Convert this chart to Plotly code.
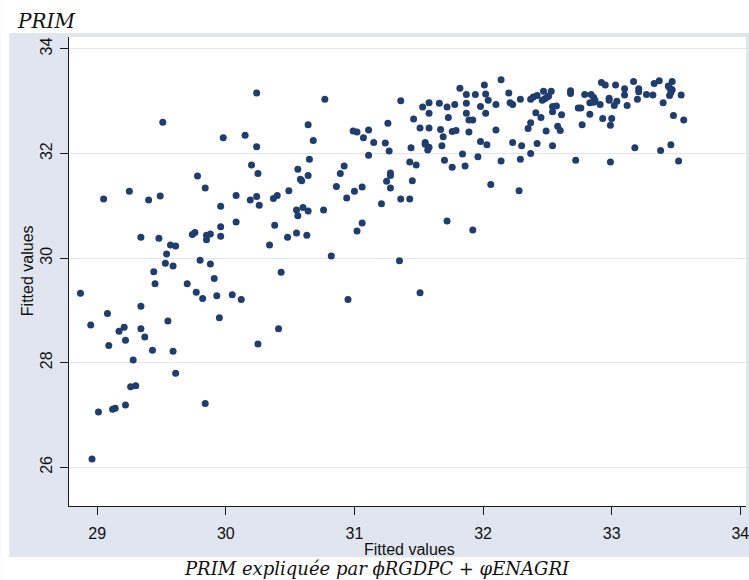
import plotly.graph_objects as go

# Fitted values (x) against PRIM (y)
fitted_x = [
    28.87, 28.95, 29.08, 29.09, 29.17, 29.21, 29.22, 29.34, 29.34, 29.37,
    29.28, 29.43, 29.44, 29.45, 29.53, 29.54, 29.59, 29.55, 29.59, 29.61,
    29.26, 29.30, 29.01, 29.12, 29.14, 29.22, 28.96, 29.70, 29.77, 29.80,
    29.88, 29.91, 29.82, 29.93, 29.95, 29.84, 30.05, 30.12, 30.25, 30.41,
    30.43, 30.82, 30.95, 30.24, 30.77, 29.51, 29.98, 30.15, 30.24, 30.64,
    30.68, 30.65, 30.20, 30.25, 29.78, 30.56, 30.58, 30.59, 30.64, 29.84,
    29.05, 29.25, 29.40, 29.49, 30.08, 30.19, 30.24, 30.26, 30.37, 30.40,
    30.49, 29.96, 30.55, 30.60, 30.64, 30.56, 30.76, 30.08, 30.38, 29.96,
    29.34, 29.48, 29.74, 29.76, 29.85, 29.88, 29.85, 29.96, 30.48, 30.55,
    30.63, 31.02, 30.34, 29.57, 29.61, 31.36, 31.53, 31.58, 31.66, 31.72,
    31.73, 31.58, 31.46, 31.26, 30.99, 31.02, 31.11, 31.07, 31.15, 31.24,
    31.27, 31.51, 31.58, 31.67, 31.69, 31.55, 31.55, 31.58, 31.57, 31.68,
    31.44, 31.11, 30.92, 30.89, 30.86, 31.00, 31.06, 30.94, 31.43, 31.48,
    31.70, 31.28, 31.28, 31.25, 31.28, 31.45, 31.21, 31.36, 31.43, 31.72,
    31.92, 31.06, 31.35, 32.28, 32.06, 31.51, 32.14, 32.01, 31.82, 31.87,
    31.94, 32.02, 32.20, 32.04, 31.78, 31.87, 31.98, 32.10, 32.21, 32.23,
    32.29, 32.37, 32.39, 32.42, 32.47, 32.53, 32.46, 32.48, 32.50, 32.51,
    32.54, 32.57, 32.54, 31.87, 32.02, 31.89, 31.92, 31.76, 31.79, 31.89,
    32.10, 32.41, 32.45, 32.37, 32.35, 32.49, 32.58, 31.98, 32.03, 32.23,
    32.30, 32.42, 32.54, 31.76, 31.84, 31.86, 31.96, 32.14, 32.37, 32.29,
    32.68, 32.68, 32.79, 32.84, 32.86, 32.87, 32.83, 32.86, 32.91, 32.92,
    32.95, 33.03, 32.98, 32.98, 33.04, 33.02, 33.10, 33.10, 33.12, 33.17,
    33.21, 33.21, 33.20, 33.27, 33.32, 33.33, 32.61, 32.74, 32.76, 32.83,
    32.77, 32.60, 32.93, 33.00, 32.99, 33.18, 32.72, 32.99, 33.37, 33.47,
    33.44, 33.45, 33.47, 33.46, 33.45, 33.54, 33.40, 33.48, 33.56, 33.46,
    33.38, 33.52,
]
prim = [
    29.33, 28.72, 28.94, 28.33, 28.60, 28.68, 28.43, 29.08, 28.65, 28.49,
    28.05, 28.24, 29.74, 29.51, 29.90, 30.08, 29.85, 28.80, 28.22, 27.80,
    27.54, 27.56, 27.06, 27.11, 27.13, 27.19, 26.16, 29.51, 29.35, 29.96,
    29.89, 29.61, 29.23, 29.28, 28.86, 27.22, 29.30, 29.21, 28.36, 28.65,
    29.73, 30.04, 29.21, 33.16, 33.04, 32.60, 32.30, 32.35, 32.13, 32.55,
    32.25, 31.89, 31.78, 31.62, 31.57, 31.70, 31.51, 31.48, 31.58, 31.34,
    31.13, 31.28, 31.11, 31.19, 31.20, 31.11, 31.18, 31.01, 31.14, 31.20,
    31.29, 30.99, 30.92, 30.97, 30.90, 30.81, 30.92, 30.69, 30.63, 30.60,
    30.40, 30.38, 30.45, 30.49, 30.44, 30.46, 30.35, 30.42, 30.40, 30.48,
    30.44, 30.52, 30.25, 30.25, 30.23, 33.01, 32.89, 32.97, 32.96, 32.89,
    32.69, 32.77, 32.66, 32.58, 32.43, 32.41, 32.45, 32.30, 32.21, 32.20,
    32.05, 32.49, 32.49, 32.46, 32.32, 32.21, 32.18, 32.12, 32.07, 32.15,
    32.11, 31.97, 31.76, 31.62, 31.37, 31.28, 31.36, 31.15, 31.84, 31.78,
    31.87, 31.63, 31.58, 31.47, 31.34, 31.48, 31.04, 31.13, 31.13, 30.71,
    30.54, 30.67, 29.95, 31.29, 31.41, 29.34, 33.41, 33.31, 33.25, 33.13,
    33.13, 33.14, 33.16, 33.02, 32.94, 32.96, 32.90, 32.94, 32.97, 32.94,
    33.04, 33.04, 33.08, 33.11, 33.19, 33.19, 33.02, 33.05, 33.08, 33.10,
    32.90, 32.91, 32.80, 32.77, 32.77, 32.64, 32.64, 32.42, 32.44, 32.41,
    32.45, 32.78, 32.69, 32.59, 32.48, 32.43, 32.52, 32.23, 32.17, 32.21,
    32.15, 32.19, 32.15, 31.74, 31.99, 31.76, 31.94, 31.86, 32.00, 31.89,
    33.20, 33.15, 33.13, 33.13, 33.07, 33.02, 32.97, 32.98, 32.94, 33.36,
    33.31, 33.31, 33.06, 33.02, 33.00, 32.92, 33.24, 33.12, 32.92, 33.38,
    33.24, 33.18, 33.04, 33.13, 33.12, 33.34, 32.74, 32.87, 32.87, 32.75,
    32.55, 32.44, 32.67, 32.67, 32.54, 32.11, 31.87, 31.84, 33.39, 33.38,
    33.29, 33.26, 33.22, 33.17, 33.11, 33.12, 32.97, 32.73, 32.64, 32.17,
    32.06, 31.86,
]

x_ticks = [29, 30, 31, 32, 33, 34]
y_ticks = [26, 28, 30, 32, 34]

title_text = "PRIM"
caption_text = "PRIM expliquée par ϕRGDPC + φENAGRI"
x_title = "Fitted values"
y_title = "Fitted values"

# Page geometry (pixels)
W, H = 749, 580
L, R, T, B = 69, 0, 37, 74
PW, PH = W - L - R, H - T - B

BG = "#E0E5EF"
GRID = "#E0E5EF"
DOT = "#1F3D6E"
AXIS = "#1a1a1a"


def px_x(p):
    return (p - L) / PW


def px_y(p):
    return (H - B - p) / PH


fig = go.Figure(
    go.Scatter(
        x=fitted_x,
        y=prim,
        mode="markers",
        marker=dict(size=7, color=DOT, line=dict(width=0)),
        hoverinfo="skip",
    )
)

tick_font = dict(family="Liberation Sans, Arial, sans-serif", size=16, color="#111")

fig.update_layout(
    width=W,
    height=H,
    margin=dict(l=L, r=R, t=T, b=B, pad=0),
    paper_bgcolor=BG,
    plot_bgcolor="white",
    showlegend=False,
    xaxis=dict(
        range=[28.781, 34.044],
        tickvals=x_ticks,
        ticks="outside",
        ticklen=8,
        tickwidth=1,
        tickcolor=AXIS,
        showline=True,
        linecolor=AXIS,
        linewidth=1,
        showgrid=False,
        zeroline=False,
        tickfont=tick_font,
        ticklabeloverflow="allow",
        ticklabelstandoff=5,
        fixedrange=True,
    ),
    yaxis=dict(
        range=[25.26, 34.229],
        tickvals=y_ticks,
        tickangle=-90,
        ticks="outside",
        ticklen=8,
        tickwidth=1,
        tickcolor=AXIS,
        showline=True,
        linecolor=AXIS,
        linewidth=1,
        showgrid=True,
        gridcolor=GRID,
        gridwidth=1.3,
        zeroline=False,
        tickfont=tick_font,
        ticklabeloverflow="allow",
        ticklabelstandoff=2,
        fixedrange=True,
    ),
)

# White page margins around the tinted graph region
white_bands = [
    (0, 0, W + 5, 33),       # top strip holding the title
    (0, 557, W + 5, H + 5),  # bottom strip holding the caption
    (0, 0, 9, H + 5),        # thin left strip
]
for x0, y0, x1, y1 in white_bands:
    fig.add_shape(
        type="rect", xref="paper", yref="paper",
        x0=px_x(x0), x1=px_x(x1), y0=px_y(y1), y1=px_y(y0),
        fillcolor="white", line=dict(width=0), layer="below",
    )

serif = "DejaVu Serif, Liberation Serif, serif"
sans = "Liberation Sans, Arial, sans-serif"

fig.add_annotation(
    text=title_text, xref="paper", yref="paper",
    x=px_x(15), y=px_y(21), xanchor="left", yanchor="middle",
    showarrow=False,
    font=dict(family=serif, size=20, color="#111", style="italic"),
)
fig.add_annotation(
    text=caption_text, xref="paper", yref="paper",
    x=px_x(378), y=px_y(568), xanchor="center", yanchor="middle",
    showarrow=False,
    font=dict(family=serif, size=18, color="#111", style="italic"),
)
fig.add_annotation(
    text=x_title, xref="paper", yref="paper",
    x=px_x(411), y=px_y(549), xanchor="center", yanchor="middle",
    showarrow=False,
    font=dict(family=sans, size=16, color="#111"),
)
fig.add_annotation(
    text=y_title, xref="paper", yref="paper",
    x=px_x(27), y=px_y(271), xanchor="center", yanchor="middle",
    textangle=-90, showarrow=False,
    font=dict(family=sans, size=16, color="#111"),
)

fig.write_html("out.html")
